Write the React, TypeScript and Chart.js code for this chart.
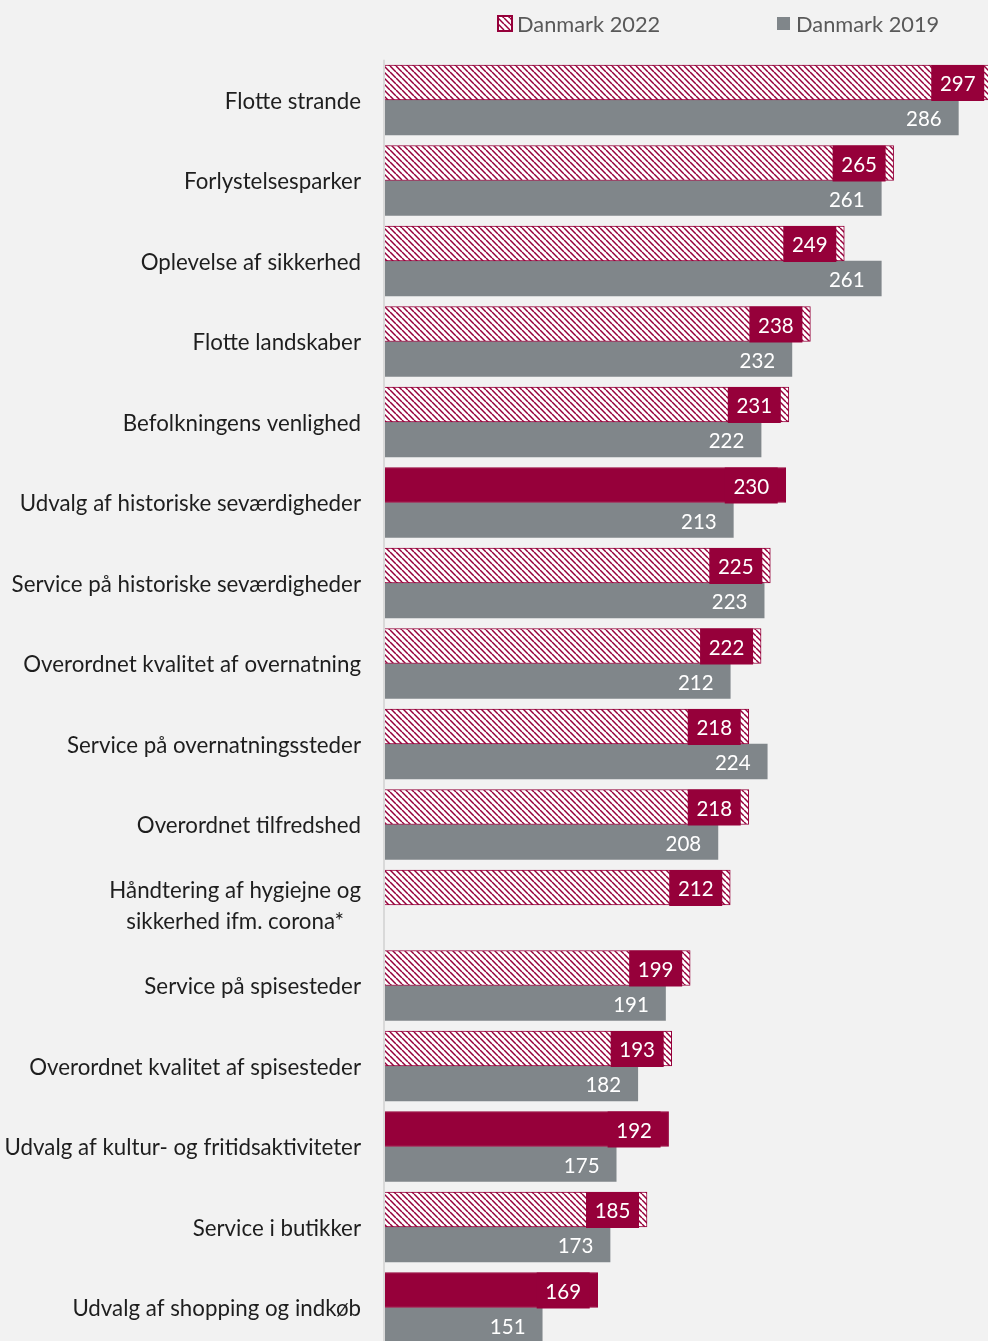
import React, { useEffect, useRef } from "react";
import { Chart, registerables } from "chart.js";

Chart.register(...registerables);

const categories: (string | string[])[] = [
  "Flotte strande",
  "Forlystelsesparker",
  "Oplevelse af sikkerhed",
  "Flotte landskaber",
  "Befolkningens venlighed",
  "Udvalg af historiske seværdigheder",
  "Service på historiske seværdigheder",
  "Overordnet kvalitet af overnatning",
  "Service på overnatningssteder",
  "Overordnet tilfredshed",
  ["Håndtering af hygiejne og", "sikkerhed ifm. corona*"],
  "Service på spisesteder",
  "Overordnet kvalitet af spisesteder",
  "Udvalg af kultur- og fritidsaktiviteter",
  "Service i butikker",
  "Udvalg af shopping og indkøb",
];

const values2022: number[] = [297, 265, 249, 238, 231, 230, 225, 222, 218, 218, 212, 199, 193, 192, 185, 169];
const values2019: (number | null)[] = [286, 261, 261, 232, 222, 213, 223, 212, 224, 208, null, 191, 182, 175, 173, 151];

const seriesNames = ["Danmark 2022", "Danmark 2019"];

// categories whose 2022 bar is drawn solid instead of hatched
const solid2022: string[] = [
  "Udvalg af historiske seværdigheder",
  "Udvalg af kultur- og fritidsaktiviteter",
  "Udvalg af shopping og indkøb",
];

const MAROON = "#96003a";
const GRAY = "#80868a";
const FONT = "Lato, 'Open Sans', sans-serif";

function makePattern(): CanvasPattern | string {
  const s = 6;
  const c = document.createElement("canvas");
  c.width = s;
  c.height = s;
  const g = c.getContext("2d");
  if (!g) return MAROON;
  g.fillStyle = "#ffffff";
  g.fillRect(0, 0, s, s);
  g.strokeStyle = MAROON;
  g.lineWidth = 1.5;
  for (const k of [-s, 0, s]) {
    g.beginPath();
    g.moveTo(k, 0);
    g.lineTo(k + s, s);
    g.stroke();
  }
  const p = g.createPattern(c, "repeat");
  return p || MAROON;
}

export default function App() {
  const ref = useRef<HTMLCanvasElement>(null);

  useEffect(() => {
    if (!ref.current) return;
    const pattern = makePattern();
    const labelKey = (c: string | string[]) => (Array.isArray(c) ? c.join(" ") : c);
    const bg2022 = categories.map((c) =>
      solid2022.some((s) => s === labelKey(c)) ? MAROON : pattern
    );

    const customPlugin = {
      id: "custom",
      afterDatasetsDraw(chart: any) {
        const ctx = chart.ctx as CanvasRenderingContext2D;
        const area = chart.chartArea;
        ctx.save();
        // axis line
        ctx.strokeStyle = "#d9d9d9";
        ctx.lineWidth = 2;
        ctx.beginPath();
        ctx.moveTo(area.left - 1, area.top);
        ctx.lineTo(area.left - 1, area.bottom);
        ctx.stroke();

        // value labels
        ctx.font = `20.5px ${FONT}`;
        ctx.textBaseline = "middle";
        ctx.textAlign = "center";
        chart.data.datasets.forEach((ds: any, di: number) => {
          const meta = chart.getDatasetMeta(di);
          meta.data.forEach((el: any, i: number) => {
            const v = ds.data[i];
            if (v === null || v === undefined) return;
            const p = el.getProps(["x", "y", "height"], true);
            const right = p.x - 8;
            if (di === 0) {
              ctx.fillStyle = MAROON;
              ctx.fillRect(right - 53, p.y - p.height / 2, 53, p.height + 1);
            }
            ctx.fillStyle = "#ffffff";
            ctx.fillText(String(v), right - 26.5, p.y + 2);
          });
        });

        // category labels
        const yScale = chart.scales.y;
        ctx.fillStyle = "#1e1e1e";
        ctx.font = `22.3px ${FONT}`;
        categories.forEach((c, i) => {
          const y = yScale.getPixelForValue(i);
          const lines = Array.isArray(c) ? c : [c];
          const widest = Math.max(...lines.map((l) => ctx.measureText(l).width));
          const lh = 31;
          lines.forEach((l, li) => {
            const ly = y + 1.5 + (li - (lines.length - 1) / 2) * lh;
            ctx.textAlign = "center";
            ctx.fillText(l, 361 - widest / 2, ly);
          });
        });

        // legend
        ctx.font = `21.8px ${FONT}`;
        ctx.textAlign = "left";
        // 2022 box
        ctx.fillStyle = pattern as any;
        ctx.fillRect(498, 16, 14, 15);
        ctx.strokeStyle = MAROON;
        ctx.lineWidth = 2;
        ctx.strokeRect(498, 16, 14, 15);
        ctx.fillStyle = "#595959";
        ctx.fillText(seriesNames[0], 517, 24.5);
        ctx.fillStyle = GRAY;
        ctx.fillRect(777, 17, 13, 13);
        ctx.fillStyle = "#595959";
        ctx.fillText(seriesNames[1], 796, 24.5);
        ctx.restore();
      },
    };

    const chart = new Chart(ref.current, {
      type: "bar",
      data: {
        labels: categories,
        datasets: [
          {
            label: seriesNames[0],
            data: values2022,
            backgroundColor: bg2022 as any,
            borderColor: MAROON,
            borderWidth: 1,
            barThickness: 35,
          },
          {
            label: seriesNames[1],
            data: values2019,
            backgroundColor: GRAY,
            borderWidth: 0,
            barThickness: 35,
          },
        ],
      },
      options: {
        indexAxis: "y",
        responsive: false,
        animation: false,
        devicePixelRatio: 1,
        layout: {
          padding: { left: 385, top: 59.75, right: 8.5, bottom: 12.25 },
        },
        plugins: {
          legend: { display: false },
          tooltip: { enabled: false },
        },
        scales: {
          x: { display: false, min: 100, max: 300, grid: { display: false } },
          y: { display: false, grid: { display: false } },
        },
      },
      plugins: [customPlugin],
    });
    return () => chart.destroy();
  }, []);

  return (
    <div
      style={{
        position: "absolute",
        left: 0,
        top: 0,
        width: 988,
        height: 1341,
        overflow: "hidden",
        background: "#f2f2f2",
      }}
    >
      <canvas ref={ref} width={1010} height={1360} style={{ width: 1010, height: 1360, display: "block" }} />
    </div>
  );
}
